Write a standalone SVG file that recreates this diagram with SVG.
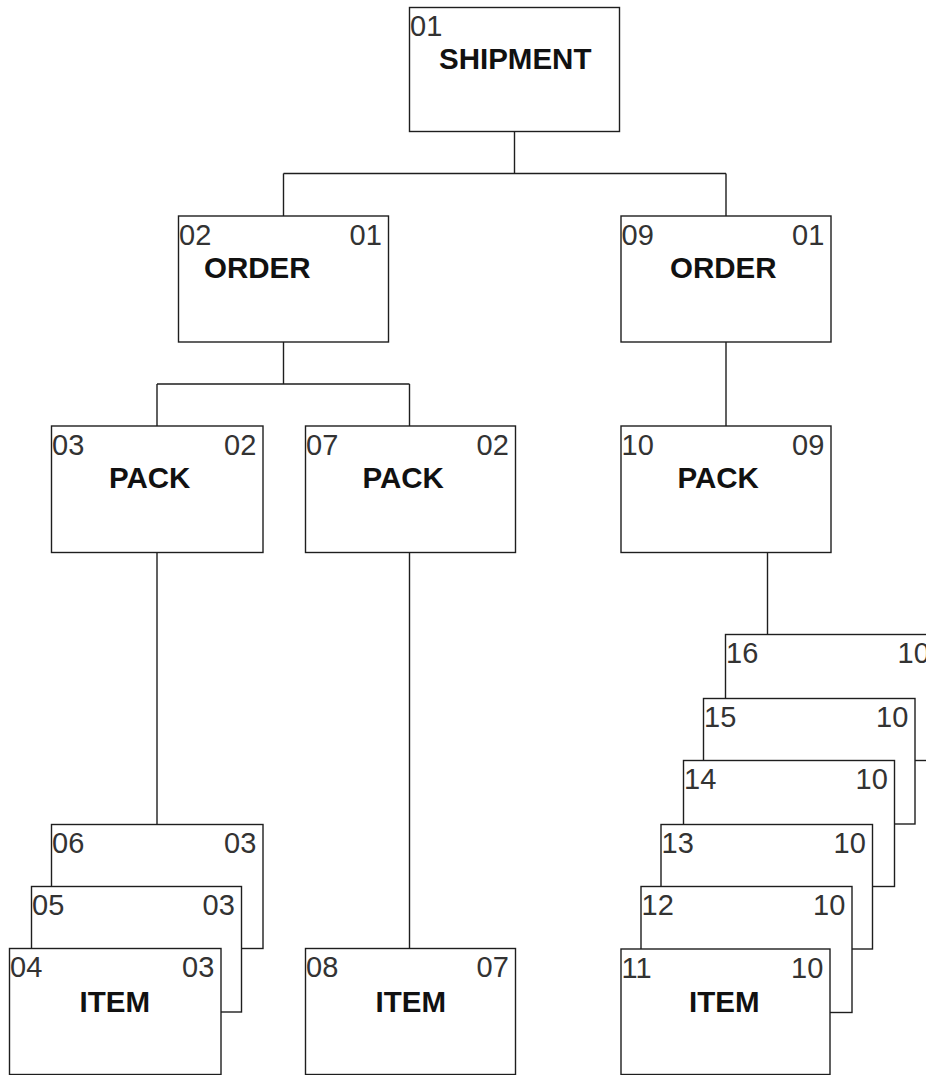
<svg xmlns="http://www.w3.org/2000/svg" width="926" height="1075" viewBox="0 0 926 1075">
<style>
.box{fill:#fff;stroke:#1e1e1e;stroke-width:1.4}
.num{font-family:"Liberation Sans",Arial,sans-serif;font-size:29px;fill:#333}
.lbl{font-family:"Liberation Sans",Arial,sans-serif;font-size:29.5px;font-weight:bold;fill:#111}
.con{fill:none;stroke:#1e1e1e;stroke-width:1.4}
</style>
<rect width="926" height="1075" fill="#fff"/>
<g id="connectors" class="con">
<path d="M514.5,131.5V173.5M283.5,173.5H726M283.5,173.5V216M726,173.5V216"/>
<path d="M283.5,342V384M157,384H409.5M157,384V426M409.5,384V426"/>
<path d="M726,342V426"/>
<path d="M157,552.5V824.5"/>
<path d="M409.5,552.5V948.5"/>
<path d="M767.5,552.5V634.5"/>
</g>
<g id="n01"><rect class="box" x="409.5" y="7.5" width="210" height="124"/><text class="num" x="410" y="35.5">01</text><text class="lbl" x="439" y="68.5">SHIPMENT</text></g>
<g id="n02"><rect class="box" x="178.5" y="216" width="210" height="126"/><text class="num" x="179" y="245">02</text><text class="num" x="349.5" y="245">01</text><text class="lbl" x="204" y="278">ORDER</text></g>
<g id="n09"><rect class="box" x="621" y="216" width="210" height="126"/><text class="num" x="621.5" y="245">09</text><text class="num" x="792" y="245">01</text><text class="lbl" x="670" y="278">ORDER</text></g>
<g id="n03"><rect class="box" x="51.5" y="426" width="211.5" height="126.5"/><text class="num" x="52" y="454.5">03</text><text class="num" x="224" y="454.5">02</text><text class="lbl" x="109" y="487.5">PACK</text></g>
<g id="n07"><rect class="box" x="305.5" y="426" width="210" height="126.5"/><text class="num" x="306" y="454.5">07</text><text class="num" x="476.5" y="454.5">02</text><text class="lbl" x="362.5" y="487.5">PACK</text></g>
<g id="n10"><rect class="box" x="621" y="426" width="210" height="126.5"/><text class="num" x="621.5" y="454.5">10</text><text class="num" x="792" y="454.5">09</text><text class="lbl" x="677.5" y="487.5">PACK</text></g>
<g id="n06"><rect class="box" x="51.5" y="824.5" width="211.5" height="124"/><text class="num" x="52" y="853">06</text><text class="num" x="224" y="853">03</text></g>
<g id="n05"><rect class="box" x="31.5" y="886.5" width="210" height="125.5"/><text class="num" x="32" y="915">05</text><text class="num" x="202.5" y="915">03</text></g>
<g id="n04"><rect class="box" x="9.5" y="948.5" width="211.5" height="126"/><text class="num" x="10" y="977">04</text><text class="num" x="182" y="977">03</text><text class="lbl" x="79.5" y="1011.5">ITEM</text></g>
<g id="n08"><rect class="box" x="305.5" y="948.5" width="210" height="126"/><text class="num" x="306" y="977">08</text><text class="num" x="476.5" y="977">07</text><text class="lbl" x="375.5" y="1011.5">ITEM</text></g>
<g id="n16"><rect class="box" x="725.5" y="634.5" width="211" height="126"/><text class="num" x="726" y="663">16</text><text class="num" x="897.5" y="663">10</text></g>
<g id="n15"><rect class="box" x="703.5" y="698.5" width="211.5" height="125.5"/><text class="num" x="704" y="727">15</text><text class="num" x="876" y="727">10</text></g>
<g id="n14"><rect class="box" x="683.5" y="760.5" width="211" height="126"/><text class="num" x="684" y="789">14</text><text class="num" x="855.5" y="789">10</text></g>
<g id="n13"><rect class="box" x="661" y="824.5" width="211.5" height="124.5"/><text class="num" x="661.5" y="853">13</text><text class="num" x="833.5" y="853">10</text></g>
<g id="n12"><rect class="box" x="641" y="886.5" width="211" height="126"/><text class="num" x="641.5" y="915">12</text><text class="num" x="813" y="915">10</text></g>
<g id="n11"><rect class="box" x="621" y="949" width="209" height="125.5"/><text class="num" x="621.5" y="977.5">11</text><text class="num" x="791" y="977.5">10</text><text class="lbl" x="689" y="1012">ITEM</text></g>
</svg>
